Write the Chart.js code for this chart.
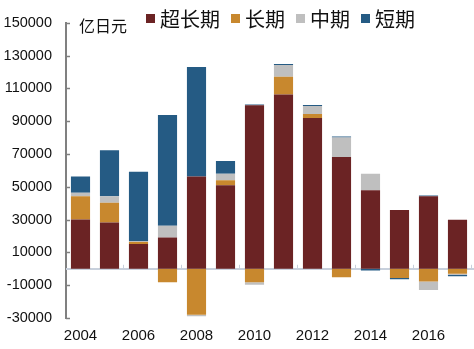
<!DOCTYPE html>
<html>
<head>
<meta charset="utf-8">
<script src="https://cdn.jsdelivr.net/npm/chart.js@4/dist/chart.umd.min.js"></script>
<style>
  body { margin: 0; background: #fff; }
  #wrap { position: relative; width: 474px; height: 349px; }
  #unit { position: absolute; left: 79px; top: 16px; font: 16px "Noto Sans CJK SC"; line-height: 18px; color: #111; }
  #legend { position: absolute; left: 146px; top: 8px; display: flex; align-items: center; font: 20px "Noto Sans CJK SC"; line-height: 21px; color: #111; }
  #legend span.box { display: inline-block; width: 9px; height: 9px; margin-right: 5px; }
  #legend div { display: flex; align-items: center; margin-right: 11px; }
</style>
</head>
<body>
<div id="wrap">
  <canvas id="myChart" width="474" height="349"></canvas>
  <div id="unit">亿日元</div>
  <div id="legend"></div>
</div>
<script>
'use strict';

let years = ['2004', '2005', '2006', '2007', '2008', '2009', '2010', '2011', '2012', '2013', '2014', '2015', '2016', '2017'];
let seriesNames = ['超长期', '长期', '中期', '短期'];
let seriesColors = ['#6b2324', '#c8882e', '#bfbfbf', '#255b84'];

let superLong = [30000, 28200, 15100, 19100, 56300, 50900, 99700, 106300, 91900, 68200, 47800, 35800, 44200, 29900];
let longTerm = [14200, 12000, 1200, -8200, -28000, 3000, -8200, 10700, 2400, -5200, 0, -5600, -7800, -3000];
let midTerm = [2200, 4000, 600, 7200, -1000, 4000, -1500, 7200, 5000, 11800, 10100, 0, -5100, -800];
let shortTerm = [9900, 28000, 42200, 67400, 66700, 7800, 500, 600, 600, 600, -1000, -800, 400, -800];

let yMin = -30000;
let yMax = 150000;
let yStep = 20000;

let allSeries = [superLong, longTerm, midTerm, shortTerm];

let datasets = [];
for (let i = 0; i < allSeries.length; i++) {
    datasets.push({
        label: seriesNames[i],
        data: allSeries[i],
        backgroundColor: seriesColors[i],
        borderWidth: 0,
        barPercentage: 0.66,
        categoryPercentage: 1
    });
}

// legend as html, built from the datasets
let legendEl = document.getElementById('legend');
for (let i = 0; i < datasets.length; i++) {
    let item = document.createElement('div');
    let box = document.createElement('span');
    box.className = 'box';
    box.style.background = datasets[i].backgroundColor;
    item.appendChild(box);
    item.appendChild(document.createTextNode(datasets[i].label));
    legendEl.appendChild(item);
}

// zero line, small inward tick marks on the y axis, marks on the zero line
let axisMarks = {
    id: 'axisMarks',
    beforeDatasetsDraw(chart) {
        let ctx = chart.ctx;
        let y = chart.scales.y;
        let zy = Math.round(y.getPixelForValue(0));
        ctx.save();
        ctx.fillStyle = '#c8d0dc';
        ctx.fillRect(chart.chartArea.left, zy - 1, chart.chartArea.right - chart.chartArea.left + 2, 2);
        ctx.restore();
    },
    afterDatasetsDraw(chart) {
        let ctx = chart.ctx;
        let y = chart.scales.y;
        let x = chart.scales.x;
        ctx.save();
        ctx.strokeStyle = '#808080';
        ctx.lineWidth = 1.5;
        y.ticks.forEach(function (t) {
            let py = Math.round(y.getPixelForValue(t.value)) + 0.5;
            ctx.beginPath();
            ctx.moveTo(y.right, py);
            ctx.lineTo(y.right + 4, py);
            ctx.stroke();
        });
        let zy = y.getPixelForValue(0);
        let step = (x.right - x.left) / years.length;
        ctx.strokeStyle = '#c8d0dc';
        ctx.lineWidth = 1;
        for (let i = 2; i <= years.length; i += 2) {
            let px = Math.round(x.left + step * i) - 0.5;
            ctx.beginPath();
            ctx.moveTo(px, zy - 4);
            ctx.lineTo(px, zy);
            ctx.stroke();
        }
        ctx.restore();
    }
};

let ctx = document.getElementById('myChart').getContext('2d');

let chart = new Chart(ctx, {
    type: 'bar',
    data: {
        labels: years,
        datasets: datasets
    },
    plugins: [axisMarks],
    options: {
        responsive: false,
        animation: false,
        layout: { padding: { top: 17, right: 2, bottom: 0, left: 0 } },
        plugins: {
            legend: { display: false },
            tooltip: { enabled: false }
        },
        scales: {
            x: {
                stacked: true,
                grid: { display: false, drawTicks: false },
                border: { display: false },
                ticks: {
                    autoSkip: false,
                    maxRotation: 0,
                    padding: 9,
                    color: '#111',
                    font: { family: 'Liberation Sans', size: 15 },
                    callback: function (val, idx) {
                        return idx % 2 === 0 ? years[idx] : '';
                    }
                },
                afterFit: function (scale) { scale.height = 31; }
            },
            y: {
                stacked: true,
                min: yMin,
                max: yMax,
                border: { display: true, color: '#808080', width: 2 },
                grid: { display: false, drawTicks: false },
                ticks: {
                    stepSize: yStep,
                    padding: 14,
                    color: '#111',
                    font: { family: 'Liberation Sans', size: 14.5 },
                    callback: function (val) { return String(val); }
                },
                afterFit: function (scale) { scale.width = 66; }
            }
        }
    }
});
</script>
</body>
</html>
